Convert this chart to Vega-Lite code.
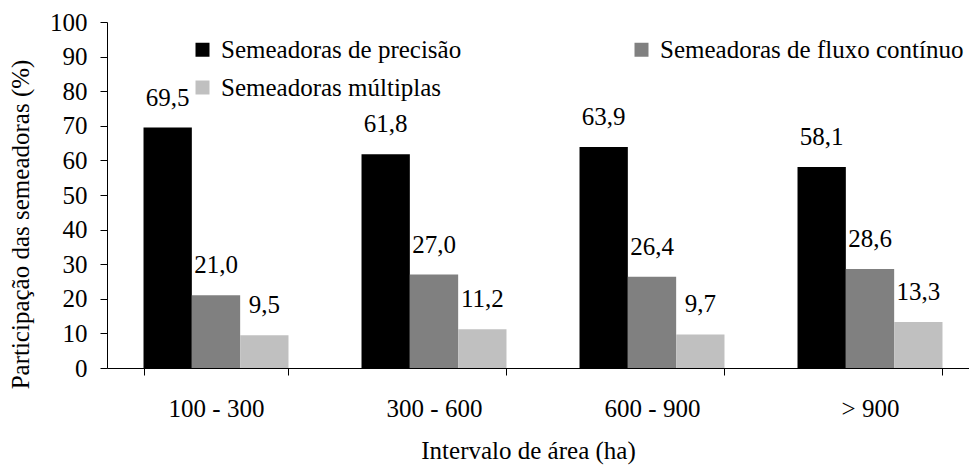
{
  "$schema": "https://vega.github.io/schema/vega-lite/v6.json",
  "width": 872,
  "height": 346,
  "autosize": {"type": "none"},
  "padding": {"left": 107, "top": 22, "right": 0, "bottom": 102},
  "background": "white",
  "config": {
    "view": {"stroke": null},
    "font": "Liberation Serif",
    "locale": {"number": {"decimal": ",", "thousands": ".", "grouping": [3], "currency": ["", ""]}}
  },
  "data": {
    "values": [
      {"intervalo": "100 - 300", "tipo": "Semeadoras de precisão", "valor": 69.5},
      {"intervalo": "100 - 300", "tipo": "Semeadoras de fluxo contínuo", "valor": 21.0},
      {"intervalo": "100 - 300", "tipo": "Semeadoras múltiplas", "valor": 9.5},
      {"intervalo": "300 - 600", "tipo": "Semeadoras de precisão", "valor": 61.8},
      {"intervalo": "300 - 600", "tipo": "Semeadoras de fluxo contínuo", "valor": 27.0},
      {"intervalo": "300 - 600", "tipo": "Semeadoras múltiplas", "valor": 11.2},
      {"intervalo": "600 - 900", "tipo": "Semeadoras de precisão", "valor": 63.9},
      {"intervalo": "600 - 900", "tipo": "Semeadoras de fluxo contínuo", "valor": 26.4},
      {"intervalo": "600 - 900", "tipo": "Semeadoras múltiplas", "valor": 9.7},
      {"intervalo": "> 900", "tipo": "Semeadoras de precisão", "valor": 58.1},
      {"intervalo": "> 900", "tipo": "Semeadoras de fluxo contínuo", "valor": 28.6},
      {"intervalo": "> 900", "tipo": "Semeadoras múltiplas", "valor": 13.3}
    ]
  },
  "encoding": {
    "x": {
      "field": "intervalo",
      "type": "nominal",
      "sort": ["100 - 300", "300 - 600", "600 - 900", "> 900"],
      "scale": {"paddingInner": 0.335, "paddingOuter": 0.1675},
      "axis": {
        "title": "Intervalo de área (ha)",
        "titleFont": "Liberation Serif",
        "titleFontSize": 25,
        "titleFontWeight": "normal",
        "titleColor": "black",
        "titleX": 421,
        "titleY": 90,
        "titleAnchor": null,
        "titleAlign": "center",
        "titleBaseline": "alphabetic",
        "labelFont": "Liberation Serif",
        "labelAngle": 0,
        "labelFontSize": 25,
        "labelColor": "black",
        "labelPadding": 21,
        "labelBaseline": "top",
        "tickBand": "extent",
        "tickSize": 7,
        "tickColor": "black",
        "domainColor": "black",
        "grid": false
      }
    },
    "xOffset": {
      "field": "tipo",
      "type": "nominal",
      "sort": ["Semeadoras de precisão", "Semeadoras de fluxo contínuo", "Semeadoras múltiplas"],
      "scale": {"paddingInner": 0, "paddingOuter": 0}
    },
    "y": {
      "field": "valor",
      "type": "quantitative",
      "scale": {"domain": [0, 100], "nice": false},
      "axis": {
        "title": "Participação das semeadoras (%)",
        "titleFont": "Liberation Serif",
        "titleFontSize": 25,
        "titleFontWeight": "normal",
        "titleColor": "black",
        "titleAngle": -90,
        "titleX": -79,
        "titleY": 202,
        "titleAlign": "center",
        "titleBaseline": "alphabetic",
        "values": [0, 10, 20, 30, 40, 50, 60, 70, 80, 90, 100],
        "format": "d",
        "labelFont": "Liberation Serif",
        "labelFontSize": 25,
        "labelColor": "black",
        "labelPadding": 13,
        "tickSize": 7,
        "tickColor": "black",
        "domainColor": "black",
        "grid": false
      }
    }
  },
  "layer": [
    {
      "mark": {"type": "bar"},
      "encoding": {
        "color": {
          "field": "tipo",
          "type": "nominal",
          "scale": {
            "domain": ["Semeadoras de precisão", "Semeadoras de fluxo contínuo", "Semeadoras múltiplas"],
            "range": ["#000000", "#808080", "#c0c0c0"]
          },
          "legend": {
            "title": null,
            "orient": "none",
            "direction": "horizontal",
            "legendX": 83,
            "legendY": 15,
            "columns": 2,
            "columnPadding": 167,
            "rowPadding": 12,
            "padding": 0,
            "symbolType": "square",
            "symbolSize": 196,
            "symbolStrokeWidth": 0,
            "symbolOpacity": 1,
            "labelFont": "Liberation Serif",
            "labelFontSize": 25,
            "labelColor": "black",
            "labelLimit": 500,
            "labelOffset": 6
          }
        }
      }
    },
    {
      "mark": {"type": "text", "baseline": "alphabetic", "dy": -22, "fontSize": 25, "color": "black", "font": "Liberation Serif"},
      "encoding": {
        "text": {"field": "valor", "type": "quantitative", "format": ".1f"}
      }
    }
  ]
}
